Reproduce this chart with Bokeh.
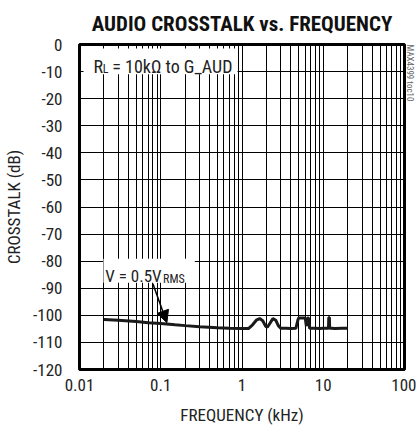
from bokeh.plotting import figure
from bokeh.models import FixedTicker, Label, Arrow, NormalHead, BoxAnnotation, Title
from bokeh.embed import file_html
from bokeh.resources import INLINE

# ---- data ----
freq_khz = [0.02, 0.03, 0.05, 0.07, 0.1, 0.15, 0.2, 0.3, 0.5, 0.7, 1.0, 1.2,
            1.35, 1.5, 1.65, 1.8, 1.95, 2.05, 2.2, 2.4, 2.6, 2.8, 3.0, 3.5,
            4.0, 4.6, 4.9, 5.0, 5.5, 6.0, 6.2, 6.4, 6.6, 6.8, 7.0, 8.0, 9.0,
            10.0, 11.0, 11.6, 11.7, 11.9, 12.0, 12.5, 14.0, 17.0, 20.0]
crosstalk_db = [-101.5, -101.8, -102.3, -102.7, -103.0, -103.5, -103.8, -104.2,
                -104.6, -104.8, -104.9, -104.9, -103.5, -101.8, -101.2, -102.0,
                -104.0, -104.4, -103.0, -101.2, -101.8, -103.8, -104.8, -104.8,
                -104.9, -104.8, -101.5, -101.0, -101.0, -101.0, -104.0, -101.0,
                -101.0, -104.8, -104.8, -104.8, -104.9, -104.8, -104.8, -104.8,
                -100.8, -100.8, -104.8, -104.8, -104.9, -104.8, -104.8]

x_ticks = [0.01, 0.1, 1, 10, 100]
x_tick_labels = ["0.01", "0.1", "1", "10", "100"]
y_ticks = [-120, -110, -100, -90, -80, -70, -60, -50, -40, -30, -20, -10, 0]
y_tick_labels = [str(v) for v in y_ticks]

FONT = "Roboto Condensed"
TXT = "#222222"

p = figure(width=416, height=429, x_axis_type="log", x_range=(0.01, 100),
           y_range=(-120, 0), output_backend="svg", toolbar_location=None,
           min_border_left=79, min_border_right=10, min_border_top=43,
           min_border_bottom=60)
p.background_fill_color = "white"
p.border_fill_color = "white"
p.outline_line_color = "black"
p.outline_line_width = 3

minor_x = [m * 10 ** e for e in range(-2, 2) for m in range(2, 10)]
p.xaxis.ticker = FixedTicker(ticks=x_ticks, minor_ticks=minor_x)
p.yaxis.ticker = FixedTicker(ticks=y_ticks)
p.xaxis.major_label_overrides = dict(zip(x_ticks, x_tick_labels))
p.yaxis.major_label_overrides = dict(zip(y_ticks, y_tick_labels))

for ax in (p.xaxis, p.yaxis):
    ax.axis_line_color = None
    ax.major_tick_line_color = None
    ax.minor_tick_line_color = None
    ax.major_tick_out = 0
    ax.major_tick_in = 0
    ax.minor_tick_out = 0
    ax.major_label_text_font = FONT
    ax.major_label_text_color = TXT
    ax.major_label_text_font_size = "17px"
    ax.axis_label_text_font = FONT
    ax.axis_label_text_font_size = "17px"
    ax.axis_label_text_font_style = "normal"
    ax.axis_label_text_color = TXT

p.yaxis.major_label_standoff = 17
p.yaxis.axis_label = "CROSSTALK (dB)"
p.yaxis.axis_label_standoff = 6
p.xaxis.major_label_standoff = 9
p.xaxis.axis_label = "FREQUENCY (kHz)"
p.xaxis.axis_label_standoff = 11

p.xgrid.ticker = FixedTicker(ticks=x_ticks, minor_ticks=minor_x)
p.xgrid.grid_line_color = "black"
p.xgrid.grid_line_width = 1
p.xgrid.minor_grid_line_color = "black"
p.xgrid.minor_grid_line_width = 1
p.ygrid.grid_line_color = "black"
p.ygrid.grid_line_width = 1

p.title = Title(text="AUDIO CROSSTALK vs. FREQUENCY", align="center",
                text_font=FONT, text_font_size="21px", text_font_style="bold",
                text_color="#111111", standoff=18)

# small vertical figure code on the right edge
p.add_layout(Title(text="MAX4399 toc10", align="left", text_font=FONT,
                   text_font_size="9px", text_font_style="normal",
                   text_color="#666666", standoff=0), "right")

p.line(freq_khz, crosstalk_db, line_width=3, color="#1a1a1a")

# annotation boxes (white backgrounds behind the notes)
p.add_layout(BoxAnnotation(left=0.0112, right=0.881, top=-1.5, bottom=-11.0,
                           fill_color="white", fill_alpha=1, line_color=None, level="underlay"))
p.add_layout(BoxAnnotation(left=0.0197, right=0.2625, top=-79.1, bottom=-88.0,
                           fill_color="white", fill_alpha=1, line_color=None, level="underlay"))

def lab(x, y, t, size, **kw):
    p.add_layout(Label(x=x, y=y, text=t, text_font=FONT, text_font_size=size,
                       text_color=TXT, text_baseline="alphabetic", **kw))

lab(0.01483, -8.1, "R", "18px")
lab(0.0193, -9.2, "L", "12px")
lab(0.02535, -8.1, "= 10kΩ to G_AUD", "18px")
lab(0.0208, -85.4, "V = 0.5V", "17px")
lab(0.1067, -86.5, "RMS", "12px")

p.add_layout(Arrow(x_start=0.080, y_start=-88.3, x_end=0.119, y_end=-102.7,
                   line_color="black", line_width=1.5,
                   end=NormalHead(size=12, fill_color="black", line_color="black")))

open("out.html", "w").write(file_html(p, INLINE))
